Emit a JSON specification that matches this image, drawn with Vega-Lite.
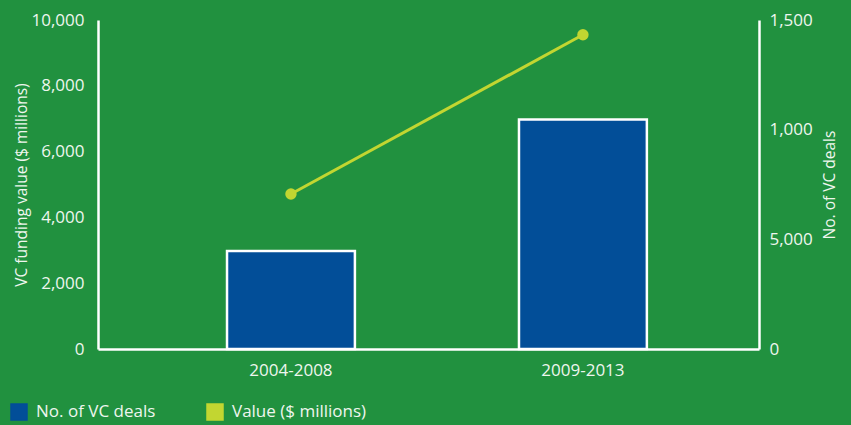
{
  "$schema": "https://vega.github.io/schema/vega-lite/v6.json",
  "width": 661,
  "height": 329,
  "autosize": "none",
  "padding": {"left": 98, "top": 20, "right": 92, "bottom": 76},
  "background": "#21913f",
  "config": {
    "view": {"stroke": null},
    "font": "Open Sans",
    "axis": {
      "domainColor": "#ffffff",
      "domainWidth": 2.5,
      "ticks": false,
      "grid": false,
      "labelFont": "Open Sans",
      "labelFontSize": 17,
      "labelColor": "#eef6ee",
      "titleFont": "Open Sans",
      "titleFontSize": 15.5,
      "titleFontWeight": "normal",
      "titleColor": "#eef6ee"
    },
    "legend": {
      "labelFont": "Open Sans",
      "labelFontSize": 17,
      "labelColor": "#eef6ee"
    }
  },
  "data": {
    "values": [
      {"period": "2004-2008", "deals": 447, "value": 4710},
      {"period": "2009-2013", "deals": 1046, "value": 9550}
    ]
  },
  "encoding": {
    "x": {
      "field": "period",
      "type": "nominal",
      "scale": {"paddingInner": 0.562, "paddingOuter": 0.413, "align": 0.535},
      "axis": {"title": null, "labelAngle": 0, "labelPadding": 13, "domainWidth": 2.5}
    }
  },
  "layer": [
    {
      "mark": {"type": "bar", "stroke": "#ffffff", "strokeWidth": 2.5},
      "encoding": {
        "y": {
          "field": "deals",
          "type": "quantitative",
          "scale": {"domain": [0, 1500], "nice": false},
          "axis": {
            "orient": "right",
            "title": "No. of VC deals",
            "titleAngle": 270,
            "titlePadding": 25,
            "values": [0, 500, 1000, 1500],
            "labelExpr": "datum.value == 500 ? '5,000' : format(datum.value, ',d')",
            "labelPadding": 10
          }
        },
        "color": {
          "datum": "No. of VC deals",
          "type": "nominal",
          "scale": {
            "domain": ["No. of VC deals", "Value ($ millions)"],
            "range": ["#024e98", "#c2d631"]
          },
          "legend": {
            "title": null,
            "orient": "none",
            "legendX": -88,
            "legendY": 383,
            "direction": "horizontal",
            "symbolType": "square",
            "symbolSize": 256,
            "columnPadding": 48,
            "labelOffset": 8,
            "encode": {
              "symbols": {
                "update": {
                  "fill": {"scale": "color", "field": "value"},
                  "stroke": {"value": "#ffffff"},
                  "strokeWidth": {"value": 1.5},
                  "opacity": {"value": 1}
                }
              }
            }
          }
        }
      }
    },
    {
      "layer": [
        {"mark": {"type": "line", "strokeWidth": 3}},
        {"mark": {"type": "point", "filled": true, "size": 130, "opacity": 1}}
      ],
      "encoding": {
        "y": {
          "field": "value",
          "type": "quantitative",
          "scale": {"domain": [0, 10000], "nice": false},
          "axis": {
            "orient": "left",
            "title": "VC funding value ($ millions)",
            "values": [0, 2000, 4000, 6000, 8000, 10000],
            "format": ",d",
            "labelPadding": 14,
            "titlePadding": 1
          }
        },
        "color": {"datum": "Value ($ millions)", "type": "nominal"}
      }
    }
  ],
  "resolve": {"scale": {"y": "independent"}}
}
